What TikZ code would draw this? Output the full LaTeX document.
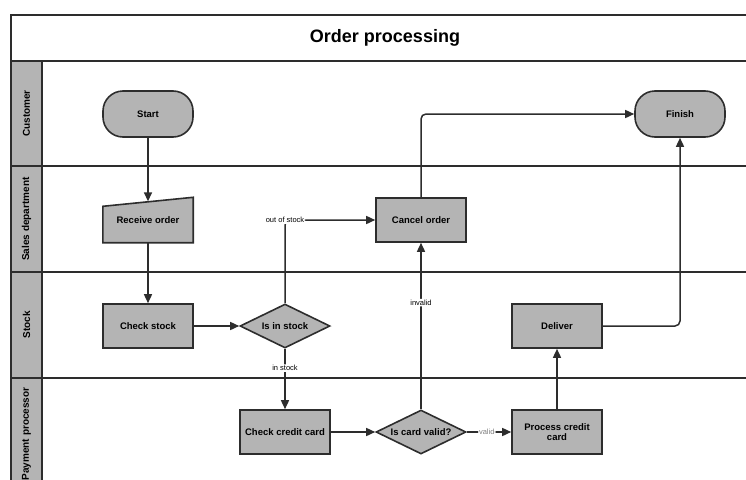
\documentclass[tikz,border=0pt]{standalone}
\usepackage{fontspec}
\setmainfont{Liberation Sans}
\usetikzlibrary{shapes.geometric,arrows.meta,backgrounds}
\definecolor{boxgray}{RGB}{180,180,180}
\definecolor{linegray}{RGB}{45,45,45}

\begin{document}
\begin{tikzpicture}[x=1pt, y=-1pt,
            process/.style={rectangle, draw=linegray, fill=boxgray, line width=1.6pt, minimum width=90pt, minimum height=44pt, align=center, font=\fontsize{9.5}{10.5}\selectfont\bfseries},
            terminal/.style={process, rounded corners=20pt, minimum height=46pt},
            manual/.style={rectangle, minimum width=90pt, minimum height=45pt, font=\fontsize{9.5}{10.5}\selectfont\bfseries},
            decision/.style={diamond, aspect=2, draw=linegray, fill=boxgray, line width=1.6pt, minimum width=90pt, minimum height=44pt, inner sep=0pt, font=\fontsize{9.5}{10.5}\selectfont\bfseries},
            frame/.style={draw=linegray, line width=1.6pt},
            lanelabel/.style={rotate=90, font=\fontsize{10}{11}\selectfont\bfseries},
            flow/.style={-{Triangle[length=9pt,width=8pt]}, draw=linegray, line width=1.5pt, rounded corners=5pt},
            flowlabel/.style={fill=white, inner sep=1pt, font=\fontsize{7.5}{8}\selectfont},
        ]
            \useasboundingbox (0,0) rectangle (746,479);
            \clip (0,0) rectangle (746,479);

            %Pool and lanes
            \draw[frame] (11,15) rectangle (770,500);
            \node[font=\fontsize{18}{20}\selectfont\bfseries] (title) at (385,38) {Order processing};
            \draw[frame] (11,61) -- (770,61);
            \filldraw[frame, fill=boxgray] (11,61) rectangle (42,500);
            \foreach \y in {166,272,378}
                \draw[frame] (11,\y) -- (770,\y);

            \node[lanelabel] (lcustomer) at (26.5,113.5) {Customer};
            \node[lanelabel] (lsales) at (26.5,219) {Sales department};
            \node[lanelabel] (lstock) at (26.5,325) {Stock};
            \node[lanelabel] (lpayment) at (26.5,434) {Payment processor};

            %Nodes
            \node[terminal] (start) at (148,114) {Start};
            \node[terminal] (finish) at (680,114) {Finish};

            \node[manual] (receive) at (148,220) {Receive order};
            \node[process] (cancel) at (421,220) {Cancel order};

            \node[process] (checkstock) at (148,326) {Check stock};
            \node[decision] (instock) at (285,326) {Is in stock};
            \node[process] (deliver) at (557,326) {Deliver};

            \node[process] (checkcard) at (285,432) {Check credit card};
            \node[decision] (cardvalid) at (421,432) {Is card valid?};
            \node[process] (processcard) at (557,432) {Process credit\\card};

            \begin{scope}[on background layer]
                \filldraw[draw=linegray, fill=boxgray, line width=1.6pt] (receive.south west) -- (receive.south east) -- (receive.north east) -- ([yshift=-9pt]receive.north west) -- cycle;
            \end{scope}

            %Lines
            \draw[flow] (start) -- ([yshift=-4pt]receive.north);
            \draw[flow] (receive) -- (checkstock);
            \draw[flow] (checkstock) -- (instock);
            \draw[flow] (instock.north) |- node[flowlabel] {out of stock} (cancel.west);
            \draw[flow] (instock.south) -- node[flowlabel, pos=0.32] {in stock} (checkcard.north);
            \draw[flow] (checkcard) -- (cardvalid);
            \draw[flow] (cardvalid.north) -- node[flowlabel, pos=0.64] {invalid} (cancel.south);
            \draw[flow] (cardvalid.east) -- node[flowlabel, text=gray, pos=0.45] {valid} (processcard.west);
            \draw[flow] (processcard) -- (deliver);
            \draw[flow] (deliver.east) -| (finish.south);
            \draw[flow] (cancel.north) |- (finish.west);
        \end{tikzpicture}
\end{document}
